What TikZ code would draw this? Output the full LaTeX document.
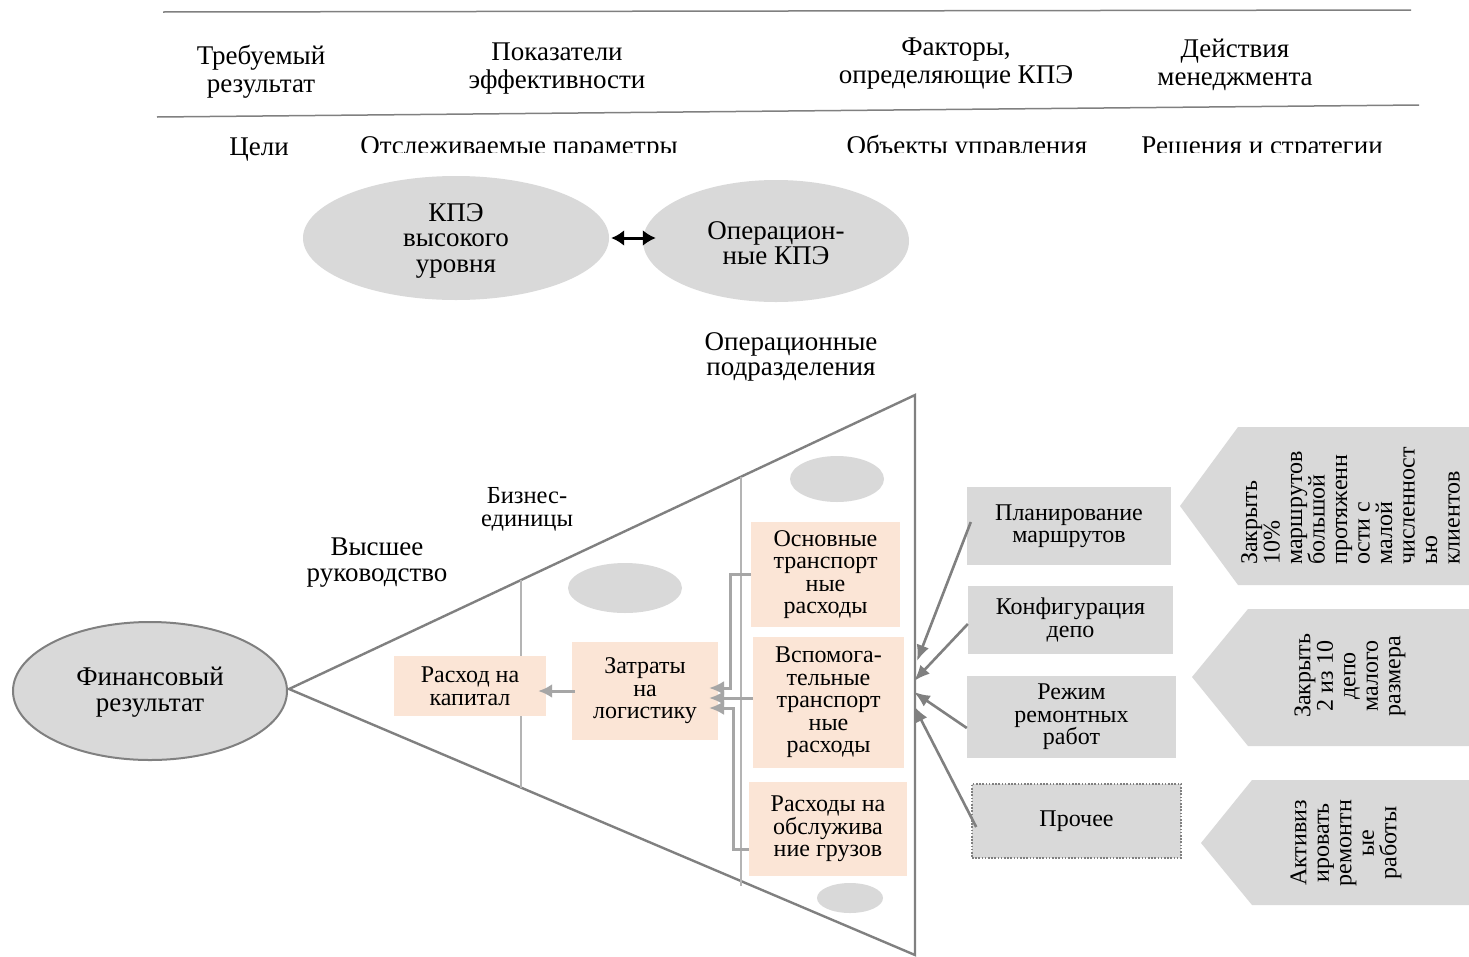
\documentclass[tikz,border=0pt]{standalone}
\usepackage{fontspec}
\setmainfont{Liberation Serif}
\usetikzlibrary{arrows.meta,calc,shapes.geometric}
\definecolor{peach}{HTML}{FBE5D6}
\definecolor{lgray}{HTML}{D9D9D9}
\definecolor{dgray}{HTML}{808080}
\definecolor{cgray}{HTML}{A6A6A6}
\definecolor{divgray}{HTML}{B4B4B4}
\begin{document}
\begin{tikzpicture}[x=1pt,y=-1pt,
  big/.style={font=\fontsize{27}{27}\selectfont, align=center, inner sep=0pt},
  small/.style={font=\fontsize{24}{22.5}\selectfont, align=center, inner sep=0pt},
  rulel/.style={draw=dgray, line width=1.5pt},
  tri/.style={draw=dgray, line width=2.4pt, line join=miter},
  divl/.style={draw=divgray, line width=1.2pt},
  pbox/.style={small, fill=peach, text=black},
  gbox/.style={small, fill=lgray},
  gell/.style={ellipse, fill=lgray, inner sep=0pt},
  lc/.style={draw=cgray, line width=3pt, -{Latex[length=15pt,width=14pt]}},
  dc/.style={draw=dgray, line width=2.6pt, -{Latex[length=16pt,width=13pt]}},
  vtext/.style={font=\fontsize{24}{22.5}\selectfont, inner sep=0pt, rotate=90}
]
\useasboundingbox (0,0) rectangle (1469,956);
\fill[white] (0,0) rectangle (1469,956);

% header rules
\coordinate (r1a) at (163,12); \coordinate (r1b) at (1411,10);
\coordinate (r2a) at (157,117); \coordinate (r2b) at (1419,105);
\draw[rulel] (r1a) -- (r1b);
\draw[rulel] (r2a) -- (r2b);

% headers
\node[big, font=\fontsize{27}{28}\selectfont] (h1) at (261,71.5) {Требуемый\\результат};
\node[big, font=\fontsize{27}{28}\selectfont] (h2) at (557,68.5) {Показатели\\эффективности};
\node[big, font=\fontsize{27}{28}\selectfont] (h3) at (956,63.5) {Факторы,\\определяющие КПЭ};
\node[big, font=\fontsize{27}{28}\selectfont] (h4) at (1235,64.5) {Действия\\менеджмента};

% sub headers (clipped at bottom)
\node[big, anchor=base] (s1) at (259,155) {Цели};
\begin{scope}
\clip (0,0) rectangle (1469,152);
\node[big, anchor=base] (s2) at (519,154) {Отслеживаемые параметры};
\node[big, anchor=base] (s3) at (967,154) {Объекты управления};
\node[big, anchor=base] (s4) at (1262,154) {Решения и стратегии};
\end{scope}

% KPI ellipses
\node[gell, minimum width=306pt, minimum height=124pt] (kpe1) at (456,238) {};
\node[big, font=\fontsize{27}{25.5}\selectfont] (kpe1t) at (456,240.5) {КПЭ\\высокого\\уровня};
\node[gell, minimum width=266pt, minimum height=122pt] (kpe2) at (776,241) {};
\node[big, font=\fontsize{27}{25}\selectfont] (kpe2t) at (776,243) {Операцион-\\ные КПЭ};
\draw[black, line width=3pt, {Latex[length=13pt,width=16pt]}-{Latex[length=13pt,width=16pt]}]
  ($(kpe1.east)+(2,0)$) -- ($(kpe1.east -| kpe2.west)+(13,0)$);

\node[big, font=\fontsize{27}{25.5}\selectfont] (opdiv) at (791,357) {Операционные\\подразделения};

% financial result
\node[ellipse, fill=lgray, draw=dgray, line width=2pt, minimum width=274pt, minimum height=138pt, inner sep=0pt] (fin) at (150,691) {};
\node[big, font=\fontsize{27}{26}\selectfont] (fint) at (150,692) {Финансовый\\результат};

% triangle
\coordinate (apex) at (289,689);
\coordinate (tr) at (915,395);
\coordinate (br) at (915,955);
\draw[tri] (apex) -- (tr) -- (br) -- cycle;

% dividers
\coordinate (d1a) at (521,580); \coordinate (d1b) at (521,788);
\coordinate (d2a) at (741,477); \coordinate (d2b) at (741,886);
\draw[divl] (d1a) -- (d1b);
\draw[divl] (d2a) -- (d2b);

% small ellipses
\node[gell, minimum width=94pt, minimum height=46pt] (e1) at (837,479) {};
\node[gell, minimum width=114pt, minimum height=50pt] (e2) at (625,588) {};
\node[gell, minimum width=66pt, minimum height=30pt] (e3) at (850,898) {};

% labels
\node[big, font=\fontsize{27}{26}\selectfont] (top) at (377,563) {Высшее\\руководство};
\node[small, font=\fontsize{24.5}{23}\selectfont] (bu) at (527,509) {Бизнес-\\единицы};

% peach boxes
\node[pbox, minimum width=152pt, minimum height=60pt] (cap) at (470,686) {Расход на\\капитал};
\node[pbox, minimum width=146pt, minimum height=98pt] (log) at (645,691) {Затраты\\на\\логистику};
\node[pbox, minimum width=149pt, minimum height=105pt] (osn) at (825.5,574.5) {Основные\\транспорт\\ные\\расходы};
\node[pbox, minimum width=151pt, minimum height=131pt] (vsp) at (828.5,702.5) {Вспомога-\\тельные\\транспорт\\ные\\расходы};
\node[pbox, minimum width=158pt, minimum height=94pt] (obs) at (828,829) {Расходы на\\обслужива\\ние грузов};

% light connectors
\coordinate (t1) at (709,688);
\coordinate (t2) at (709,698);
\coordinate (t3) at (709,708);
\draw[lc, -{Latex[length=14pt,width=14pt]}] ([xshift=3pt]log.west) -- ([xshift=-8pt]log.west -| cap.east);
\draw[lc] (osn.west) -- ++(-20,0) |- (t1);
\draw[lc] (vsp.west |- t2) -- (t2);
\draw[lc] ([yshift=-20pt]obs.west) -- ++(-15,0) |- (t3);

% gray factor boxes
\node[gbox, minimum width=204pt, minimum height=78pt] (pl) at (1069,526) {Планирование\\маршрутов};
\node[gbox, minimum width=205pt, minimum height=68pt] (kf) at (1070.5,620) {Конфигурация\\депо};
\node[gbox, minimum width=209pt, minimum height=82pt] (rz) at (1071.5,717) {Режим\\ремонтных\\работ};
\node[gbox, minimum width=209pt, minimum height=74pt, draw=dgray, line width=1.6pt, dash pattern=on 1.6pt off 1.6pt] (pr) at (1076.5,821) {Прочее};

% dark arrows into triangle
\coordinate (a1) at (917,661);
\coordinate (a2) at (914,681);
\coordinate (a3) at (914,692);
\coordinate (a4) at (914,706);
\draw[dc] ([xshift=4pt,yshift=4pt]pl.west) -- (a1);
\draw[dc] ([yshift=-4pt]kf.west) -- (a2);
\draw[dc] ([yshift=-11pt]rz.west) -- (a3);
\draw[dc] ([xshift=5pt,yshift=-6pt]pr.west) -- (a4);

% decision pentagons
\fill[lgray] (1180,506) -- (1238,427) -- (1469,427) -- (1469,585) -- (1238,585) -- cycle;
\fill[lgray] (1192,677) -- (1248,609) -- (1469,609) -- (1469,746) -- (1248,746) -- cycle;
\fill[lgray] (1201,843) -- (1252,780) -- (1469,780) -- (1469,905) -- (1252,905) -- cycle;

\node[vtext, align=left, anchor=north west] (v1) at (1241,565)
  {Закрыть\\10\%\\маршрутов\\большой\\протяженн\\ости с\\малой\\численност\\ью\\клиентов};
\node[vtext, align=center] (v2) at (1350,676) {Закрыть\\2 из 10\\депо\\малого\\размера};
\node[vtext, align=center] (v3) at (1346,843) {Активиз\\ировать\\ремонтн\\ые\\работы};
\end{tikzpicture}
\end{document}
